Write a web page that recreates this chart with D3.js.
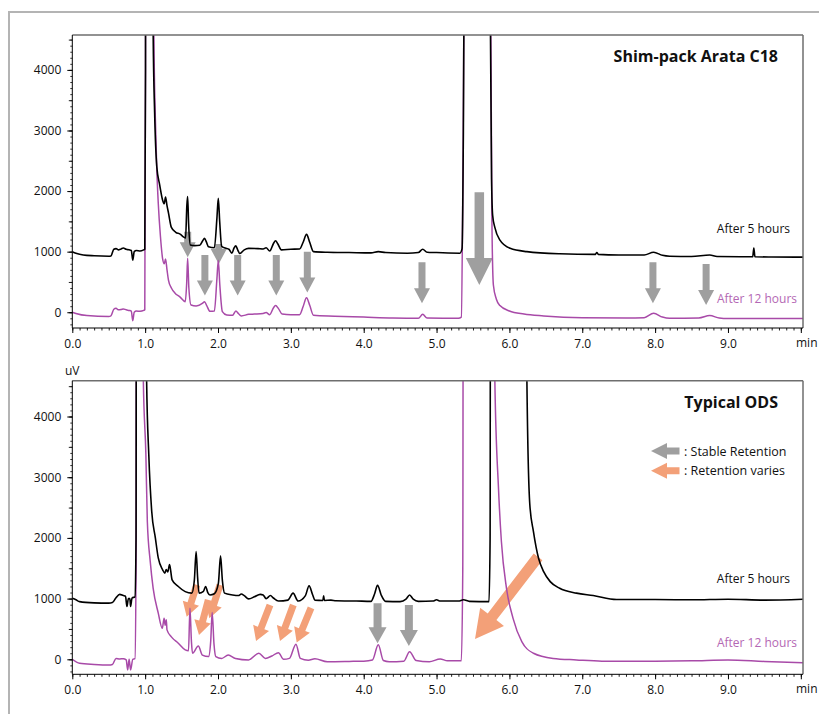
<!DOCTYPE html>
<html><head><meta charset="utf-8">
<script src="https://cdn.jsdelivr.net/npm/d3@7"></script>
<style>body{margin:0;background:#fff}svg{display:block;font-family:"Open Sans","Noto Sans",sans-serif}</style>
</head><body><svg id="c" width="819" height="714"></svg>
<script>
// ---------- DATA (time in min, signal in uV) ----------
const xTicks = [0,1,2,3,4,5,6,7,8,9];
const xTickLabels = ["0.0","1.0","2.0","3.0","4.0","5.0","6.0","7.0","8.0","9.0"];
const yTicks = [0,1000,2000,3000,4000];
const yTickLabels = ["0","1000","2000","3000","4000"];
const panelTitles = ["Shim-pack Arata C18","Typical ODS"];
const seriesNames = ["After 5 hours","After 12 hours"];
const legendLabels = [": Stable Retention",": Retention varies"];

// Top panel (Shim-pack Arata C18), after 5 hours
const arataAfter5 = [[0,1000],[0.05,975],[0.15,945],[0.3,932],[0.5,925],[0.53,930],[0.57,1040],[0.6,1050],[0.63,1030],[0.67,1045],[0.7,1060],[0.74,1040],[0.78,1030],[0.81,1020],[0.83,860],[0.85,1000],[0.88,1020],[0.93,1010],[0.98,1030],[0.995,1040],[1.005,4000],[1.015,30000],[1.09,30000],[1.11,4600],[1.13,3300],[1.16,2400],[1.2,2100],[1.24,1850],[1.262,1790],[1.28,1900],[1.3,1760],[1.32,1640],[1.36,1400],[1.42,1320],[1.48,1290],[1.53,1240],[1.555,1225],[1.572,1750],[1.583,1910],[1.597,1450],[1.62,1110],[1.68,1100],[1.75,1105],[1.79,1180],[1.815,1220],[1.84,1160],[1.87,1080],[1.95,1065],[1.985,1550],[2.004,1880],[2.023,1500],[2.05,1090],[2.1,1060],[2.15,1040],[2.19,975],[2.22,1060],[2.245,1095],[2.27,1030],[2.3,970],[2.36,1030],[2.42,1055],[2.55,1050],[2.62,1045],[2.66,1065],[2.71,1010],[2.76,1130],[2.79,1180],[2.82,1130],[2.87,1030],[3.0,1040],[3.12,1045],[3.17,1160],[3.215,1285],[3.26,1150],[3.31,1000],[3.5,990],[3.8,985],[4.1,980],[4.2,1000],[4.3,985],[4.6,975],[4.75,985],[4.81,1040],[4.87,990],[5.0,985],[5.32,975],[5.35,1050],[5.365,2500],[5.38,6000],[5.4,30000],[5.7,30000],[5.74,4600],[5.755,2200],[5.77,1600],[5.8,1400],[5.87,1190],[6.01,1055],[6.24,1000],[6.69,965],[7.18,955],[7.2,985],[7.22,955],[7.5,945],[7.85,945],[7.98,990],[8.1,940],[8.2,925],[8.5,920],[8.75,945],[8.85,920],[9.34,915],[9.355,1060],[9.37,915],[9.6,912],[10.03,910]];
// Top panel, after 12 hours
const arataAfter12 = [[0,0],[0.05,-20],[0.2,-55],[0.5,-70],[0.53,-60],[0.57,50],[0.6,65],[0.63,40],[0.67,45],[0.7,55],[0.74,40],[0.78,30],[0.81,20],[0.83,-140],[0.85,0],[0.88,20],[0.93,15],[0.98,30],[0.995,40],[1.005,4000],[1.015,30000],[1.1,30000],[1.12,4600],[1.14,3200],[1.16,2350],[1.18,1800],[1.21,1250],[1.24,880],[1.262,800],[1.28,880],[1.3,700],[1.32,530],[1.36,400],[1.41,315],[1.48,250],[1.55,175],[1.57,480],[1.583,890],[1.6,400],[1.63,120],[1.7,105],[1.79,150],[1.815,175],[1.845,110],[1.89,15],[1.95,20],[1.985,550],[2.004,860],[2.025,450],[2.06,10],[2.12,-45],[2.2,-50],[2.245,20],[2.28,-20],[2.32,-60],[2.42,-35],[2.5,-30],[2.62,-20],[2.66,-5],[2.71,-40],[2.76,70],[2.79,110],[2.83,60],[2.88,-30],[3.0,-40],[3.12,-40],[3.17,100],[3.215,240],[3.26,110],[3.31,-50],[3.6,-65],[4.0,-80],[4.4,-95],[4.75,-100],[4.81,-35],[4.87,-95],[5.3,-100],[5.34,-80],[5.36,2000],[5.38,6000],[5.4,30000],[5.7,30000],[5.745,4600],[5.76,1500],[5.78,450],[5.82,220],[5.87,110],[6.0,20],[6.2,-30],[6.47,-60],[7.0,-90],[7.6,-95],[7.85,-90],[7.98,-17],[8.1,-80],[8.2,-100],[8.6,-95],[8.75,-55],[8.88,-95],[9.0,-105],[10.03,-105]];

// Bottom panel (Typical ODS), after 5 hours
const odsAfter5 = [[0,1005],[0.05,980],[0.1,950],[0.3,930],[0.5,925],[0.55,935],[0.6,1015],[0.65,1070],[0.7,1050],[0.73,1040],[0.75,870],[0.77,1000],[0.79,1000],[0.8,870],[0.82,1010],[0.86,1030],[0.875,2000],[0.89,30000],[1.0,30000],[1.02,4600],[1.05,3370],[1.09,2440],[1.14,2000],[1.18,1670],[1.24,1475],[1.27,1420],[1.29,1480],[1.31,1440],[1.335,1560],[1.37,1310],[1.455,1200],[1.55,1115],[1.64,1090],[1.675,1300],[1.7,1775],[1.72,1350],[1.74,1090],[1.8,1120],[1.83,1200],[1.86,1100],[1.89,1060],[1.95,1080],[2.005,1250],[2.035,1705],[2.06,1300],[2.09,1090],[2.2,1060],[2.28,1050],[2.32,1075],[2.36,1050],[2.42,995],[2.5,1030],[2.58,1070],[2.62,1060],[2.66,1000],[2.72,1050],[2.76,1010],[2.83,960],[2.96,975],[3.03,1090],[3.1,960],[3.2,1050],[3.25,1210],[3.3,1060],[3.33,975],[3.44,970],[3.45,1045],[3.46,970],[3.55,975],[3.62,965],[3.9,960],[4.1,955],[4.15,1080],[4.19,1220],[4.24,1060],[4.3,955],[4.5,950],[4.58,990],[4.63,1060],[4.68,990],[4.75,955],[4.95,960],[5.0,980],[5.05,960],[5.3,960],[5.37,980],[5.45,955],[5.72,950],[5.735,2000],[5.75,30000],[6.2,30000],[6.24,4600],[6.28,2550],[6.33,2105],[6.4,1665],[6.47,1445],[6.56,1280],[6.69,1170],[6.92,1090],[7.15,1050],[7.47,985],[8.0,985],[8.5,980],[9.0,990],[9.5,975],[10.03,990]];
// Bottom panel, after 12 hours
const odsAfter12 = [[0,0],[0.1,-65],[0.3,-85],[0.5,-95],[0.55,-85],[0.6,15],[0.65,5],[0.7,10],[0.74,-10],[0.76,-175],[0.78,0],[0.8,-175],[0.83,0],[0.86,10],[0.875,1500],[0.89,30000],[0.95,30000],[0.975,4600],[1.01,3370],[1.03,2270],[1.07,1610],[1.11,1170],[1.18,760],[1.235,510],[1.26,675],[1.275,560],[1.29,650],[1.3,485],[1.36,370],[1.455,265],[1.55,155],[1.595,140],[1.615,840],[1.635,300],[1.65,100],[1.73,220],[1.785,70],[1.87,45],[1.9,300],[1.92,770],[1.945,250],[1.97,45],[2.05,15],[2.14,70],[2.24,15],[2.42,-10],[2.56,100],[2.65,15],[2.74,55],[2.83,110],[2.9,0],[2.98,15],[3.07,250],[3.13,15],[3.24,-15],[3.33,10],[3.5,-40],[3.8,-35],[4.0,-30],[4.12,-10],[4.2,240],[4.27,-20],[4.35,-40],[4.55,-30],[4.63,125],[4.72,-20],[4.9,-40],[5.05,5],[5.15,-25],[5.34,-25],[5.36,1500],[5.38,30000],[5.76,30000],[5.8,4600],[5.85,2820],[5.89,1940],[5.96,1170],[6.05,675],[6.17,290],[6.33,100],[6.6,15],[6.92,-10],[7.27,-30],[8.0,-30],[8.5,-25],[9.0,-10],[9.5,-35],[10.03,-55]];

// Annotation arrows: [t tail, v tail, t tip, v tip]
const arataStableArrows = [[1.584,1330,1.584,908],[1.82,945,1.82,277],[2.01,1127,2.01,797],[2.27,945,2.27,277],[2.80,945,2.80,277],[3.226,1000,3.226,327],[4.80,825,4.80,149],[7.97,825,7.97,149],[8.70,797,8.70,120]];
const arataBigArrow = [[5.587,1980,5.587,450]];
const odsStableArrows = [[4.19,924,4.19,264],[4.62,896,4.62,219]];
const odsVaryArrows = [[1.708,1226,1.570,703],[1.867,979,1.739,401],[2.027,1226,1.881,677],[2.714,896,2.522,302],[3.034,896,2.851,302],[3.277,847,3.080,277]];
const odsBigArrow = [[6.393,1688,5.528,335]];

// ---------- STYLE ----------
const C = {black:"#000", magenta:"#a84aa8", magentaText:"#b468b4", gray:"#9f9f9f", orange:"#f3a078", frame:"#b4b4b4", border:"#6e6e6e"};
const svg = d3.select("#c");
svg.append("rect").attr("width",819).attr("height",714).attr("fill","#fff");
svg.append("rect").attr("x",9).attr("y",12).attr("width",830).attr("height",730).attr("fill","none").attr("stroke",C.frame).attr("stroke-width",2);

const x = d3.scaleLinear().domain([0,10.03]).range([72.3,803]);

function arrowPath(x0,y0,x1,y1,w,hw,hl){
  const dx=x1-x0, dy=y1-y0, L=Math.hypot(dx,dy), ux=dx/L, uy=dy/L, px=-uy, py=ux;
  const bx=x1-ux*hl, by=y1-uy*hl;
  const p=[[x0+px*w/2,y0+py*w/2],[bx+px*w/2,by+py*w/2],[bx+px*hw/2,by+py*hw/2],[x1,y1],[bx-px*hw/2,by-py*hw/2],[bx-px*w/2,by-py*w/2],[x0-px*w/2,y0-py*w/2]];
  return "M"+p.map(q=>q.join(",")).join("L")+"Z";
}

function panel(id, top, bottom, yDom, s5, s12, title, arrows){
  const y = d3.scaleLinear().domain(yDom).range([bottom,top]);
  const g = svg.append("g");
  g.append("clipPath").attr("id","clip"+id).append("rect").attr("x",72.3).attr("y",top).attr("width",803-72.3).attr("height",bottom-top);
  // arrows (beneath traces)
  arrows.forEach(a=>{
    a.data.forEach(d=>{
      g.append("path").attr("d",arrowPath(x(d[0]),y(d[1]),x(d[2]),y(d[3]),a.w,a.hw,a.hl)).attr("fill",a.color);
    });
  });
  const line = d3.line().x(d=>x(d[0])).y(d=>y(d[1])).curve(d3.curveMonotoneX);
  const cg = g.append("g").attr("clip-path","url(#clip"+id+")");
  cg.append("path").datum(s12).attr("d",line).attr("fill","none").attr("stroke",C.magenta).attr("stroke-width",1.5).attr("stroke-linejoin","round");
  cg.append("path").datum(s5).attr("d",line).attr("fill","none").attr("stroke",C.black).attr("stroke-width",1.6).attr("stroke-linejoin","round");
  // borders
  g.append("line").attr("x1",72.3).attr("x2",803).attr("y1",top).attr("y2",top).attr("stroke",C.border).attr("stroke-width",1.5);
  g.append("line").attr("x1",803).attr("x2",803).attr("y1",top).attr("y2",bottom).attr("stroke",C.border).attr("stroke-width",1.5);
  // y axis
  const minorY = d3.range(Math.ceil(yDom[0]/100)*100, yDom[1], 100);
  g.append("g").attr("transform","translate(72.3,0)")
    .call(d3.axisLeft(y).tickValues(minorY).tickSize(2).tickFormat(""))
    .call(a=>a.select(".domain").remove()).selectAll("line").attr("stroke","#333");
  g.append("g").attr("transform","translate(72.3,0)")
    .call(d3.axisLeft(y).tickValues(minorY.filter(v=>v%500===0)).tickSize(3.5).tickFormat(""))
    .call(a=>a.select(".domain").remove()).selectAll("line").attr("stroke","#222");
  const ya = g.append("g").attr("transform","translate(72.3,0)")
    .call(d3.axisLeft(y).tickValues(yTicks).tickSize(5).tickPadding(6).tickFormat((d,i)=>yTickLabels[i]));
  ya.select(".domain").attr("stroke","#000").attr("d",`M0,${top}V${bottom}`);
  ya.selectAll("text").attr("font-size",12).attr("font-family","'Open Sans',sans-serif").attr("fill","#111");
  // x axis
  const minorX = d3.range(0,101).map(i=>i/10);
  g.append("g").attr("transform",`translate(0,${bottom})`)
    .call(d3.axisBottom(x).tickValues(minorX).tickSize(2.5).tickFormat(""))
    .call(a=>a.select(".domain").remove()).selectAll("line").attr("stroke","#222");
  const xa = g.append("g").attr("transform",`translate(0,${bottom})`)
    .call(d3.axisBottom(x).tickValues(xTicks.concat([10])).tickSize(5).tickPadding(6).tickFormat((d,i)=>i<xTickLabels.length?xTickLabels[i]:""));
  xa.select(".domain").attr("stroke","#000").attr("d",`M72.3,0H803`);
  xa.selectAll("text").attr("font-size",12).attr("font-family","'Open Sans',sans-serif").attr("fill","#111");
  g.append("text").attr("x",796).attr("y",bottom+18.5).attr("font-size",12).attr("fill","#111").text("min");
  // labels
  g.append("text").attr("x",778).attr("y",top+27).attr("text-anchor","end").attr("font-size",16).attr("font-weight","bold").attr("fill","#111").text(title);
  return y;
}

const yTop = panel(1, 35, 328, [-260,4576], arataAfter5, arataAfter12, panelTitles[0], [
  {data:arataStableArrows, color:C.gray, w:7, hw:16, hl:15},
  {data:arataBigArrow, color:C.gray, w:9.5, hw:27, hl:27}
]);
const yBot = panel(2, 380.7, 674.3, [-247,4590], odsAfter5, odsAfter12, panelTitles[1], [
  {data:odsStableArrows, color:C.gray, w:8, hw:18, hl:16},
  {data:odsVaryArrows, color:C.orange, w:7, hw:17, hl:14},
  {data:odsBigArrow, color:C.orange, w:11, hw:30, hl:28}
]);

// series labels
[[233,303],[583,647]].forEach(p=>{
  svg.append("text").attr("x",790).attr("y",p[0]).attr("text-anchor","end").attr("font-size",12).attr("fill","#111").text(seriesNames[0]);
  svg.append("text").attr("x",797).attr("y",p[1]).attr("text-anchor","end").attr("font-size",12).attr("fill",C.magentaText).text(seriesNames[1]);
});
svg.append("text").attr("x",65).attr("y",374.5).attr("font-size",12).attr("fill","#111").text("uV");

// legend
[[451,C.gray,legendLabels[0]],[470.7,C.orange,legendLabels[1]]].forEach(l=>{
  svg.append("path").attr("d",arrowPath(679.5,l[0],651,l[0],7,16,16)).attr("fill",l[1]);
  svg.append("text").attr("x",684).attr("y",l[0]+4.5).attr("font-size",12.5).attr("fill","#111").text(l[2]);
});
</script></body></html>
